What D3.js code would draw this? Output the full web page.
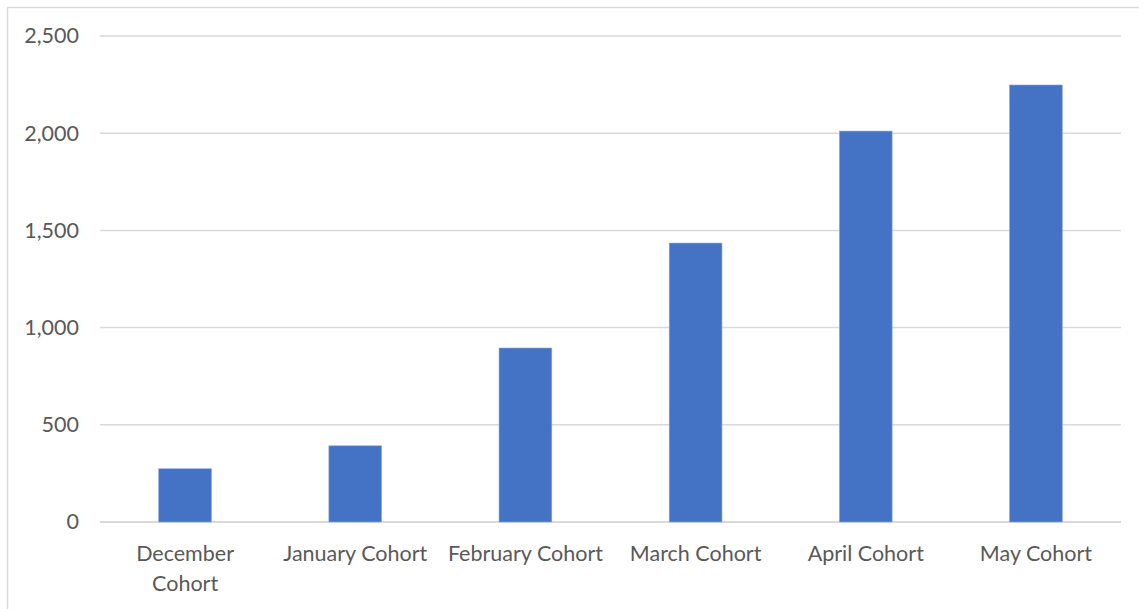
<!DOCTYPE html>
<html>
<head>
<meta charset="utf-8">
<script src="https://cdn.jsdelivr.net/npm/d3@7"></script>
<style>
  body { margin: 0; background: #fff; }
  .axis text { font-family: Lato, "Open Sans", sans-serif; fill: #595959; }
</style>
</head>
<body>
<div class="container"></div>
<script>
const WIDTH = 1139;
const HEIGHT = 609;

// chart data
var categories = ["December Cohort", "January Cohort", "February Cohort", "March Cohort", "April Cohort", "May Cohort"];
var values = [274, 392, 895, 1435, 2011, 2248];
var yTicks = [0, 500, 1000, 1500, 2000, 2500];

var PLOT_LEFT = 100, PLOT_RIGHT = 1121, PLOT_TOP = 36, PLOT_BOTTOM = 522;
var FONT_SIZE = '21.5px';

var svg = d3.select('.container').append('svg')
  .attr('width', WIDTH)
  .attr('height', HEIGHT);

// chart frame
svg.append('rect')
  .attr('x', 7.5).attr('y', 7.5)
  .attr('width', WIDTH + 10).attr('height', HEIGHT + 10)
  .attr('fill', 'none')
  .attr('stroke', '#d9d9d9')
  .attr('stroke-width', 1.5);

var x = d3.scaleBand()
  .domain(categories)
  .range([PLOT_LEFT, PLOT_RIGHT])
  .paddingInner(0.69)
  .paddingOuter(0.345);

var y = d3.scaleLinear()
  .domain([0, 2500])
  .range([PLOT_BOTTOM, PLOT_TOP]);

// gridlines
svg.append('g')
  .selectAll('line')
  .data(yTicks)
  .join('line')
  .attr('x1', PLOT_LEFT).attr('x2', PLOT_RIGHT)
  .attr('y1', d => y(d)).attr('y2', d => y(d))
  .attr('stroke', '#d9d9d9')
  .attr('stroke-width', d => d === 0 ? 2 : 1.5);

// y axis labels
var yAxis = d3.axisLeft(y)
  .tickValues(yTicks)
  .tickFormat(d3.format(','))
  .tickSize(0)
  .tickPadding(0);

svg.append('g')
  .attr('class', 'axis')
  .attr('transform', 'translate(79,0)')
  .call(yAxis)
  .call(g => g.select('.domain').remove())
  .selectAll('text')
  .style('font-size', FONT_SIZE);

// bars
svg.append('g')
  .selectAll('rect')
  .data(values)
  .join('rect')
  .attr('x', (d, i) => x(categories[i]))
  .attr('y', d => y(d))
  .attr('width', x.bandwidth())
  .attr('height', d => y(0) - y(d))
  .attr('fill', '#4472c4')
  .attr('stroke', '#8fa9dc')
  .attr('stroke-width', 0.6);

// x axis labels (wrap long ones)
var xAxis = d3.axisBottom(x).tickSize(0).tickPadding(0);
var xg = svg.append('g')
  .attr('class', 'axis')
  .attr('transform', 'translate(0,' + 561 + ')')
  .call(xAxis);
xg.select('.domain').remove();
xg.selectAll('.tick text')
  .style('font-size', FONT_SIZE)
  .attr('dy', 0)
  .each(function(d) {
    var t = d3.select(this);
    if (d === "December Cohort") {
      var parts = d.split(' ');
      t.text(null);
      t.append('tspan').attr('x', 0).attr('dy', 0).text(parts[0]);
      t.append('tspan').attr('x', 0).attr('dy', 30).text(parts[1]);
    }
  });
</script>
</body>
</html>
